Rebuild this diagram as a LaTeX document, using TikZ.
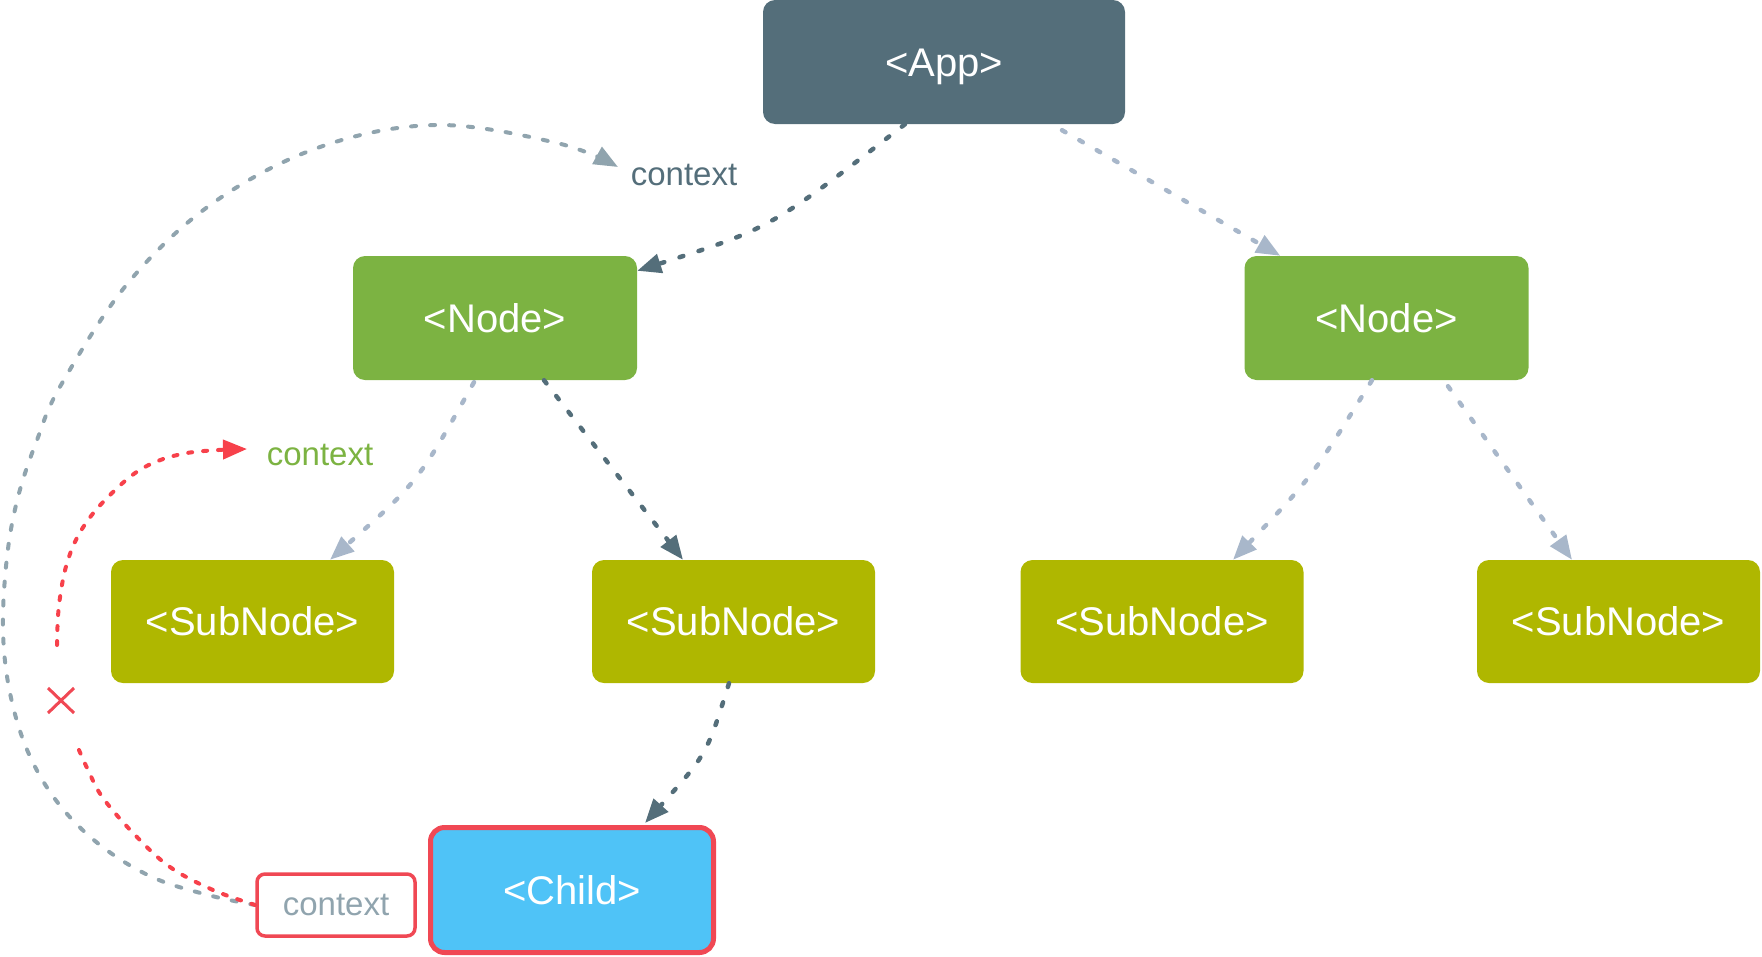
\documentclass[tikz,border=0pt]{standalone}
\usepackage{fontspec}
\setmainfont{Liberation Sans}
\usetikzlibrary{arrows.meta}
\definecolor{appc}{HTML}{546E7A}
\definecolor{nodec}{HTML}{7CB342}
\definecolor{subc}{RGB}{175,183,0}
\definecolor{childc}{HTML}{4FC3F7}
\definecolor{redc}{RGB}{240,72,84}
\definecolor{redline}{RGB}{247,65,75}
\definecolor{grayc}{HTML}{90A4AE}
\definecolor{lightc}{RGB}{168,183,202}
\begin{document}
\begin{tikzpicture}[x=1pt,y=-1pt,
  box/.style={rectangle, rounded corners=12pt, inner sep=0pt, text=white,
    font=\fontsize{40}{48}\selectfont, text height=28.6pt, text depth=0pt, minimum height=124pt},
  appbox/.style={box, fill=appc, minimum width=362pt},
  nodebox/.style={box, fill=nodec, minimum width=284pt},
  subbox/.style={box, fill=subc, minimum width=283pt, minimum height=123pt},
  childbox/.style={box, fill=childc, draw=redc, line width=5pt, minimum width=283pt, minimum height=125pt, rounded corners=14pt},
  ctxbox/.style={rectangle, draw=redc, line width=3.5pt, fill=white, rounded corners=8pt,
    minimum width=158pt, minimum height=62pt, inner sep=0pt, text=grayc, font=\fontsize{33}{40}\selectfont},
  lbl/.style={font=\fontsize{33}{40}\selectfont, inner sep=0pt, anchor=base},
  tipd/.style={-{Triangle[length=24pt,width=19pt]}},
  darkarrow/.style={draw=appc, line width=4.5pt, line cap=round, dash pattern=on 4pt off 16pt, tipd},
  lightarrow/.style={draw=lightc, line width=4.5pt, line cap=round, dash pattern=on 4pt off 16pt, tipd},
  grayarc/.style={draw=grayc, line width=4pt, line cap=round, dash pattern=on 5pt off 14pt, tipd},
  redarc/.style={draw=redline, line width=4pt, line cap=round, dash pattern=on 4pt off 11pt},
  redx/.style={draw=redc, line width=3pt}
]
\useasboundingbox (0,0) rectangle (1762,956);

% nodes
\node[appbox] (app) at (944,62) {<App>};
\node[nodebox] (node1) at (495,318) {<Node>};
\node[nodebox] (node2) at (1386.5,318) {<Node>};
\node[subbox] (sub1) at (252.5,621.5) {<SubNode>};
\node[subbox] (sub2) at (733.5,621.5) {<SubNode>};
\node[subbox] (sub3) at (1162,621.5) {<SubNode>};
\node[subbox] (sub4) at (1618.5,621.5) {<SubNode>};
\node[childbox] (child) at (572,890) {<Child>};
\node[ctxbox] (ctx) at (336,905) {context};

% labels
\node[lbl, text=appc] (ctxtop) at (684,185) {context};
\node[lbl, text=nodec] (ctxgreen) at (320,465) {context};

% tree connectors
\draw[darkarrow] ([xshift=-39pt]app.south) .. controls (771,228) .. ([yshift=-15pt]node1.north east);
\draw[lightarrow] ([xshift=118pt,yshift=-6pt]app.south) -- ([xshift=36pt]node2.north west);
\draw[lightarrow] ([xshift=-21pt,yshift=-2pt]node1.south) .. controls (418,482) .. ([xshift=77.5pt]sub1.north);
\draw[darkarrow] ([xshift=49pt]node1.south) -- ([xshift=-50.5pt]sub2.north);
\draw[lightarrow] ([xshift=-14.5pt]node2.south) .. controls (1312,477) .. ([xshift=71pt]sub3.north);
\draw[lightarrow] ([xshift=61.5pt,yshift=-6pt]node2.south) -- ([xshift=-46.5pt]sub4.north);
\draw[darkarrow] ([xshift=-4.5pt]sub2.south) .. controls (707,754) .. ([xshift=73pt,yshift=2pt]child.north);

% context arcs
\draw[grayarc] plot[smooth, tension=0.6] coordinates {(ctx.west) (208,895) (152,877) (100,845) (58,803) (28,752) (10,693) (3,630) (7,557) (18,497) (37,440) (61,385) (128,283) (213,203) (320,147) (436,125) (557,143) (618,167)};
\draw[redarc] plot[smooth, tension=0.6] coordinates {(ctx.west) (213,890) (170,867) (135,835) (103,798) (88,770) (76,743)};
\draw[redarc, tipd] plot[smooth, tension=0.6] coordinates {(57,645) (59,605) (67,563) (82,529) (107,498) (143,468) (187,453) (247,449)};
\draw[redx] (48,688) -- (74,713) (48,713) -- (74,688);
\end{tikzpicture}
\end{document}
